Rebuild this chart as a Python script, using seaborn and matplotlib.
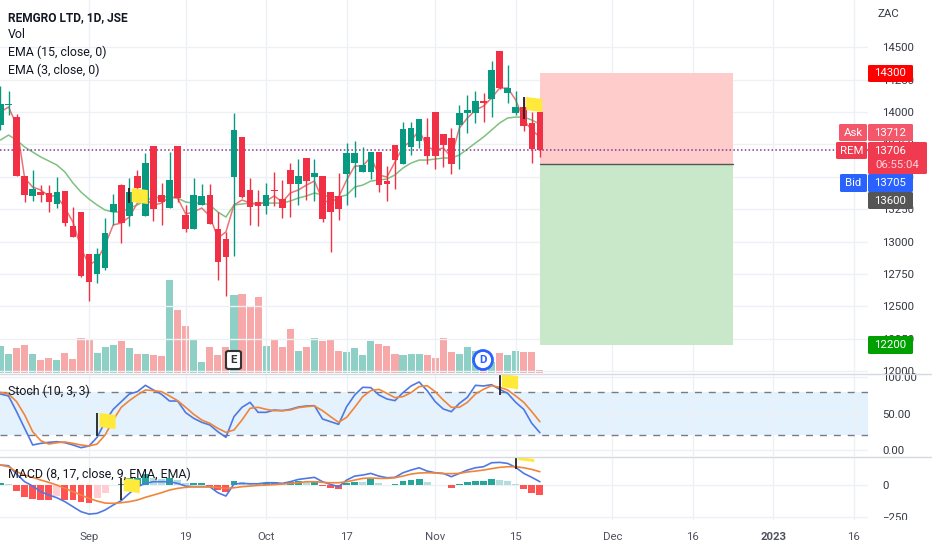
import numpy as np
import matplotlib
matplotlib.use('Agg')
import matplotlib.pyplot as plt
from matplotlib.lines import Line2D
from matplotlib.patches import FancyBboxPatch, Polygon, Circle, Rectangle
import seaborn as sns

# OHLC, daily bars (ZAC)
opens = [13897, 14054, 13961, 13508, 13354, 13382, 13375, 13290, 13392, 13120, 13228, 12904, 12749, 12796, 13228, 13439, 13199,
         13508, 13199, 13740, 13359, 13259, 13740, 13205, 13097, 13282, 13359, 13099, 13020, 13501, 13807, 13398, 13308, 13274,
         13398, 13328, 13552, 13444, 13645, 13498, 13506, 13382, 13352, 13521, 13606, 13539, 13539, 13691, 13467, 13745, 13599,
         13732, 13776, 13807, 14000, 13830, 13799, 13900, 13992, 13992, 14087, 14098, 14471, 14149, 13992, 14036, 13915, 14000]
highs = [14201, 14162, 13985, 13508, 13552, 13436, 13436, 13501, 13392, 13269, 13228, 12904, 12950, 13182, 13367, 13444, 13490,
         13552, 13683, 13740, 13452, 13691, 13740, 13282, 13490, 13444, 13444, 13228, 13076, 13992, 13807, 13490, 13398, 13452,
         13537, 13475, 13606, 13637, 13645, 13637, 13506, 13382, 13529, 13763, 13778, 13730, 13694, 13691, 13583, 13745, 13925,
         13925, 13946, 13954, 14000, 13830, 13876, 14054, 14131, 14162, 14149, 14396, 14471, 14363, 14164, 14118, 14000, 14000]
lows = [13861, 13977, 13508, 13308, 13315, 13308, 13228, 13259, 13120, 13033, 12726, 12543, 12680, 12780, 13128, 12989, 13120,
        13359, 13199, 13161, 13128, 13259, 13308, 13074, 13097, 13282, 13135, 12703, 12580, 12888, 13336, 13128, 13122, 13213,
        13274, 13182, 13192, 13282, 13321, 13315, 13153, 12919, 13166, 13282, 13344, 13539, 13485, 13385, 13315, 13406, 13599,
        13668, 13722, 13599, 13560, 13575, 13521, 13560, 13840, 13915, 13925, 13961, 14178, 14072, 13977, 13856, 13606, 13655]
closes = [14062, 14062, 13508, 13362, 13406, 13362, 13305, 13382, 13141, 13033, 12736, 12690, 12904, 13068, 13290, 13145, 13385,
          13413, 13606, 13249, 13305, 13475, 13336, 13097, 13359, 13352, 13135, 12844, 12883, 13861, 13346, 13269, 13274, 13359,
          13390, 13259, 13444, 13506, 13467, 13529, 13174, 13230, 13251, 13683, 13683, 13591, 13691, 13436, 13444, 13629, 13869,
          13876, 13946, 13660, 13660, 13745, 13599, 13992, 14015, 14087, 14072, 14324, 14185, 14185, 14039, 13894, 13714, 13707]

ema15 = [13784, 13822, 13784, 13730, 13691, 13653, 13622, 13591, 13537, 13452, 13382, 13328, 13282, 13243, 13228, 13228, 13259,
         13282, 13321, 13336, 13344, 13344, 13336, 13305, 13297, 13297, 13282, 13228, 13189, 13282, 13290, 13297, 13297, 13297,
         13297, 13297, 13313, 13336, 13352, 13375, 13359, 13344, 13344, 13359, 13421, 13436, 13467, 13475, 13483, 13514, 13568,
         13606, 13629, 13629, 13637, 13645, 13645, 13668, 13714, 13761, 13807, 13861, 13915, 13954, 13961, 13961, 13938, 13907]
ema3 = [14000, 14039, 13900, 13490, 13421, 13398, 13352, 13352, 13259, 13151, 12950, 12819, 12857, 12973, 13128, 13143, 13189,
        13297, 13328, 13282, 13297, 13344, 13336, 13213, 13228, 13259, 13197, 13027, 13074, 13282, 13321, 13297, 13282, 13313,
        13352, 13305, 13375, 13398, 13436, 13467, 13321, 13297, 13344, 13475, 13583, 13583, 13653, 13514, 13498, 13614, 13730,
        13776, 13861, 13730, 13707, 13722, 13653, 13876, 13954, 14015, 14046, 14108, 14185, 14185, 14093, 13938, 13861, 13807]

# volume in thousands of shares (scale is arbitrary, no axis in the picture)
volume = [270, 190, 250, 280, 190, 130, 150, 130, 200, 140, 350, 330, 200, 260, 280, 320, 250, 190, 190, 180, 170, 930, 630, 470,
          340, 110, 260, 180, 260, 780, 790, 660, 760, 270, 340, 260, 440, 220, 260, 350, 320, 340, 220, 210, 250, 180, 320, 290,
          270, 190, 180, 190, 190, 180, 150, 350, 210, 190, 260, 220, 200, 110, 200, 180, 220, 210, 210, 30]

stoch_k = [76.7, 74, 52.5, 29.7, 6.9, 9.1, 10.5, 11.4, 10, 6.9, 3.2, 5.5, 17.4, 38.8, 55.7, 66.2, 76.7, 79.9, 88.6, 82.2, 76.3,
           67.1, 67.1, 51.2, 43.4, 37.9, 34.3, 25.1, 17.4, 45.7, 58.5, 65.3, 51.6, 51.6, 54.8, 53.9, 55.7, 58.9, 60.3, 60.7, 42.5,
           38.8, 35.2, 59.4, 75.4, 85.9, 85.4, 75.4, 69.9, 67.6, 78.6, 87.7, 93.2, 81.3, 66.2, 56.2, 52.5, 63.9, 72.2, 88.6, 87.7,
           89.5, 83.1, 77.6, 65.3, 55.7, 36.5, 23.8]
stoch_d = [79, 76.7, 66.2, 48, 25.1, 12.8, 8.2, 10, 11, 9.1, 6.9, 5.5, 8.2, 20.6, 41.1, 58.5, 67.6, 75.4, 82.2, 81.3, 79.9, 74,
           67.6, 58.5, 48.9, 41.1, 36.5, 29.7, 24.2, 27.4, 41.1, 57.1, 58.5, 55.7, 53.9, 53.9, 54.8, 58, 59.4, 60.3, 53.9, 45.7,
           37.9, 44.8, 58.5, 73.1, 81.3, 83.1, 77.6, 71.7, 73.1, 78.6, 86.8, 88.1, 79.9, 68.5, 58.5, 58.5, 65.3, 76.7, 83.1, 88.1,
           85.9, 82.2, 74, 65.3, 52.5, 38.8]

macd_line = [156, 151, 86, 26, -8, -52, -78, -99, -130, -169, -208, -227, -221, -195, -156, -122, -65, -13, 13, 26, 26, 26, 13,
             -8, -13, -13, -13, -60, -86, 8, 13, 10, 10, 18, 18, 13, 26, 44, 52, 60, 26, 5, -13, 39, 70, 78, 91, 70, 57, 60, 96,
             117, 135, 109, 96, 91, 65, 91, 117, 135, 143, 174, 177, 169, 138, 91, 60, 26]
macd_signal = [156, 143, 104, 78, 60, 39, 21, 0, -26, -52, -78, -104, -125, -141, -143, -138, -130, -117, -96, -78, -60, -39,
               -26, -18, -13, -13, -13, -18, -26, -21, -13, -8, -3, 0, 3, 8, 13, 18, 26, 26, 21, 18, 18, 26, 39, 52, 55, 52,
               52, 57, 70, 86, 94, 96, 94, 89, 89, 91, 102, 109, 117, 128, 138, 143, 143, 135, 122, 104]
macd_hist = [13, 8, -44, -91, -112, -113, -114, -86, -113, -114, -130, -138, -104, -65, -3, 5, 52, 54, 86, 52, 50, 55, 39, 13, 15,
             18, -8, -39, -57, 31, 26, 18, 13, 18, 20, 13, 26, 31, 21, 31, -5, -21, -31, 18, 26, 24, 44, 13, -3, 8, 31, 39, 47, 23,
             1, -3, -21, 8, 23, 31, 32, 49, 39, 31, 8, -31, -65, -81]

# date ticks sit on these bars
tick_bars = [11, 23, 33, 43, 54, 64, 76, 86, 96, 106]
tick_labels = ['Sep', '19', 'Oct', '17', 'Nov', '15', 'Dec', '16', '2023', '16']
price_ticks = [12000, 12250, 12500, 12750, 13000, 13250, 13500, 13750, 14000, 14250, 14500]

# short position tool
pos_start, pos_end = 67, 91
stop_price, entry_price, target_price = 14300, 13600, 12200
last_price = 13706

# flags: bar, top, flag bottom, stem bottom
price_flags = [(16, 13413, 13305, 13297), (65, 14116, 14015, 13946)]
stoch_flags = [(12, 50.7, 31.5, 19.2), (62, 104, 86, 75.3)]
macd_flags = [(15, 55, -47, -117), (64, 219, 195, 125)]

W, H = 932, 550
AXIS_X = 868
UP, DOWN = '#089981', '#f23045'
GRID = '#eef0f5'
TEXT = '#333842'
TICK_SIZE = 8.2

sns.set_theme(style='white')
plt.rcParams['font.family'] = ['Roboto', 'Open Sans']
plt.rcParams['font.size'] = TICK_SIZE


def pane(top, bottom):
    a = fig.add_axes([0, 1 - bottom / H, AXIS_X / W, (bottom - top) / H])
    for s in a.spines.values():
        s.set_visible(False)
    return a


def to_fig(x, y):
    return x / W, 1 - y / H


def price_box(x0, x1, y0, y1, color, label=None, alpha=1):
    fig.add_artist(FancyBboxPatch(to_fig(x0, y1), (x1 - x0) / W, (y1 - y0) / H, boxstyle='round,pad=0,rounding_size=0.002',
                                  transform=fig.transFigure, fc=color, ec='none', alpha=alpha, zorder=20))
    if label:
        fig.text((x0 + x1) / 2 / W, 1 - (y0 + y1) / 2 / H, label, color='white', ha='center', va='center', zorder=21)


def add_flags(a, flags):
    for bar, top, flag_low, stem_low in flags:
        rng = a.get_ylim()[1] - a.get_ylim()[0]
        # about 2px of slant whatever the pane height
        tilt = 2 / a.bbox.height * rng
        a.add_patch(Polygon([(bar + 0.3, top), (bar + 2.3, top - tilt), (bar + 2.3, flag_low - tilt), (bar + 0.3, flag_low)],
                            fc='#ffe93b', ec='none', zorder=6, clip_on=False))
        a.plot([bar, bar], [top, stem_low], color='#222', lw=1.3, zorder=7, solid_capstyle='butt', clip_on=False)


def right_ticks(a):
    a.tick_params(bottom=False, labelbottom=False, left=False, labelleft=False, right=False, labelright=True,
                  length=0, pad=10, labelcolor=TEXT, labelsize=TICK_SIZE)


fig = plt.figure(figsize=(W / 100, H / 100), dpi=100)
xlim = (-0.062, 107.76)
bars = np.arange(len(closes))

# volume lives underneath the price pane
ax_vol = pane(0, 373)
vol_dir = ['up' if c >= o else 'down' for o, c in zip(opens, closes)]
sns.barplot(x=bars, y=volume, hue=vol_dir, palette={'up': '#8fd0c6', 'down': '#f7a8a8'}, native_scale=True, dodge=False,
            saturation=1, errorbar=None, legend=False, width=0.88, linewidth=0, ax=ax_vol)
ax_vol.set_xlim(xlim)
ax_vol.set_ylim(0, 3730)
ax_vol.set_xticks([])
ax_vol.set_yticks([])
ax_vol.set_xlabel('')
ax_vol.set_ylabel('')
ax_vol.set_zorder(1)

ax = pane(0, 373)
ax.patch.set_alpha(0)
ax.set_zorder(2)
ax.set_xlim(xlim)
ax.set_ylim(11985, 14865)
ax.fill_between([pos_start, pos_end], entry_price, stop_price, color='#ffcccc', lw=0, zorder=1)
ax.fill_between([pos_start, pos_end], target_price, entry_price, color='#c9e8c9', lw=0, zorder=1)
ax.plot([pos_start, pos_end], [entry_price, entry_price], color='#555', lw=1, zorder=1.5)
sns.lineplot(x=bars, y=ema15, color='#80c080', lw=1.1, errorbar=None, ax=ax, zorder=2)
sns.lineplot(x=bars, y=ema3, color='#ee7272', lw=1.1, errorbar=None, ax=ax, zorder=2)
ax.axhline(last_price, color='#86369a', ls=(0, (1, 1.5)), lw=1.1, zorder=2)
colors = [UP if c >= o else DOWN for o, c in zip(opens, closes)]
ax.vlines(bars, lows, highs, colors=colors, lw=1, zorder=3)
body_low = np.minimum(opens, closes)
body_h = np.maximum(np.abs(np.subtract(closes, opens)), 10)
ax.bar(bars, body_h, bottom=body_low, width=0.82, color=colors, lw=0, zorder=4)
add_flags(ax, price_flags)
ax.set_xlabel('')
ax.set_ylabel('')
ax.set_xticks(tick_bars)
ax.set_yticks(price_ticks)
ax.grid(True, color=GRID, lw=1)
ax.set_axisbelow(True)
right_ticks(ax)

ax_st = pane(374, 456)
ax_st.set_xlim(xlim)
ax_st.set_ylim(-8.2, 104.1)
ax_st.axhspan(20, 80, color='#e3f2fd', lw=0, zorder=0)
for lvl in (20, 80):
    ax_st.axhline(lvl, color='#787b86', ls=(0, (5, 5)), lw=1, zorder=1)
sns.lineplot(x=bars, y=stoch_k, color='#4f78e3', lw=1.2, errorbar=None, ax=ax_st, zorder=3)
sns.lineplot(x=bars, y=stoch_d, color='#f0853a', lw=1.2, errorbar=None, ax=ax_st, zorder=3)
add_flags(ax_st, stoch_flags)
ax_st.set_xlabel('')
ax_st.set_ylabel('')
ax_st.set_xticks(tick_bars)
ax_st.set_yticks([0, 50, 100], ['0.00', '50.00', '100.00'])
ax_st.grid(True, color=GRID, lw=1)
ax_st.set_axisbelow(True)
right_ticks(ax_st)

ax_m = pane(457, 520)
hist_colors = []
prev = 0
for v in macd_hist:
    if v >= 0:
        hist_colors.append('rise_up' if v >= prev else 'fall_up')
    else:
        hist_colors.append('fall_dn' if v <= prev else 'rise_dn')
    prev = v
sns.barplot(x=bars, y=macd_hist, hue=hist_colors,
            palette={'rise_up': '#26a69a', 'fall_up': '#b2dfdb', 'fall_dn': '#ff5252', 'rise_dn': '#ffcdd2'},
            native_scale=True, dodge=False, saturation=1, errorbar=None, legend=False, width=0.85, linewidth=0,
            ax=ax_m, zorder=2)
sns.lineplot(x=bars, y=macd_line, color='#4f78e3', lw=1.2, errorbar=None, ax=ax_m, zorder=3)
sns.lineplot(x=bars, y=macd_signal, color='#f0853a', lw=1.2, errorbar=None, ax=ax_m, zorder=3)
ax_m.set_xlim(xlim)
ax_m.set_ylim(-273, 219)
add_flags(ax_m, macd_flags)
ax_m.set_xlabel('')
ax_m.set_ylabel('')
ax_m.set_xticks(tick_bars, tick_labels)
ax_m.set_yticks([0, -250], ['0', '\u2212250'])
ax_m.grid(True, color=GRID, lw=1)
ax_m.set_axisbelow(True)
right_ticks(ax_m)
ax_m.tick_params(axis='x', labelbottom=True, pad=9, labelcolor='#50535e')
ax_m.get_xticklabels()[8].set_fontweight('bold')

# the lowest macd label is cut by the time axis strip
fig.add_artist(Rectangle(to_fig(AXIS_X, 527), (W - AXIS_X) / W, 7 / H, transform=fig.transFigure, fc='white', ec='none', zorder=9))

# pane separators across the whole width
for y in (373.5, 456.5):
    fig.add_artist(Line2D([0, 1], [1 - y / H] * 2, color='#d6d9e0', lw=1, transform=fig.transFigure, zorder=10))

# legend text
fig.text(8 / W, 1 - 17.5 / H, 'REMGRO LTD, 1D, JSE', fontweight='bold', color='#131722', va='center', fontsize=8.6, zorder=15)
for y, s in [(35, 'Vol'), (52.7, 'EMA (15, close, 0)'), (70.7, 'EMA (3, close, 0)'), (391.7, 'Stoch (10, 3, 3)'),
             (474, 'MACD (8, 17, close, 9, EMA, EMA)')]:
    fig.text(8 / W, 1 - y / H, s, color='#131722', va='center', fontsize=8.9, zorder=15)
fig.text(878 / W, 1 - 14 / H, 'ZAC', color=TEXT, va='center', zorder=15)

# E / D event badges
fig.add_artist(FancyBboxPatch(to_fig(226, 369), 15 / W, 18 / H, boxstyle='round,pad=0,rounding_size=0.003', transform=fig.transFigure,
                              fc='white', ec='#333', lw=1.5, zorder=15))
fig.text(233.5 / W, 1 - 360 / H, 'E', color='#333', ha='center', va='center', fontweight='bold', zorder=16)
ax.add_patch(Circle((483, H - 360), 9.5, transform=None, fc='white', ec='#2962ff', lw=2, zorder=15, clip_on=False))
fig.text(483 / W, 1 - 360 / H, 'D', color='#2962ff', ha='center', va='center', fontweight='bold', zorder=16)

# price badges
price_box(868, 913, 65, 82, '#ff0000', '14300')
price_box(839, 867, 124, 141, '#f4566a', 'Ask')
price_box(868, 913, 124, 141, '#f4566a', '13712')
price_box(836, 867, 142, 159, '#f03a50', 'REM')
price_box(868, 927, 142, 174, '#f03a50')
fig.text(890.5 / W, 1 - 150.7 / H, '13706', color='white', ha='center', va='center', zorder=21)
fig.text(897.5 / W, 1 - 165 / H, '06:55:04', color='#ffd5da', ha='center', va='center', zorder=21)
price_box(840, 867, 174, 192, '#2962ff', 'Bid')
price_box(868, 913, 174, 192, '#2962ff', '13705')
price_box(868, 913, 192, 209, '#555555', '13600')
price_box(868, 913, 336, 354, '#00a000', '12200')

fig.savefig('out.png', dpi=100)
